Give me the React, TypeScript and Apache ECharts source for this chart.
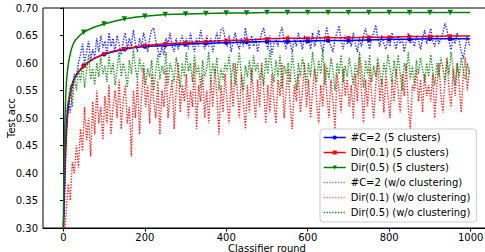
import React, { useEffect, useRef } from "react";
import * as echarts from "echarts";

const xTicks = [0, 200, 400, 600, 800, 1000];

const smoothRounds = [0, 1, 2, 3, 4, 5, 6, 8, 10, 12, 15, 20, 25, 30, 35, 40, 50, 60, 75, 100, 125, 150, 175, 200, 250, 300, 350, 400, 450, 500, 550, 600, 650, 700, 750, 800, 850, 900, 950, 999];
const blueClustered = [0.30, 0.33, 0.36, 0.39, 0.42, 0.44, 0.46, 0.49, 0.51, 0.525, 0.54, 0.558, 0.569, 0.576, 0.582, 0.587, 0.595, 0.601, 0.608, 0.616, 0.621, 0.625, 0.628, 0.630, 0.632, 0.634, 0.636, 0.637, 0.638, 0.639, 0.639, 0.640, 0.641, 0.641, 0.642, 0.643, 0.643, 0.644, 0.644, 0.644];
const redClustered = [0.29, 0.32, 0.35, 0.38, 0.41, 0.43, 0.45, 0.48, 0.50, 0.515, 0.535, 0.555, 0.567, 0.575, 0.581, 0.586, 0.594, 0.600, 0.608, 0.617, 0.622, 0.626, 0.629, 0.632, 0.635, 0.637, 0.639, 0.641, 0.642, 0.644, 0.645, 0.645, 0.646, 0.646, 0.647, 0.647, 0.648, 0.648, 0.649, 0.649];
const greenClustered = [0.30, 0.37, 0.43, 0.47, 0.50, 0.525, 0.545, 0.57, 0.585, 0.597, 0.61, 0.626, 0.636, 0.642, 0.646, 0.650, 0.656, 0.660, 0.665, 0.671, 0.676, 0.680, 0.683, 0.685, 0.688, 0.689, 0.690, 0.691, 0.691, 0.692, 0.692, 0.692, 0.692, 0.692, 0.692, 0.692, 0.692, 0.692, 0.692, 0.692];

const noisyStart = 2;
const noisyStep = 5;
const blueNoClust = [
  0.32, 0.46, 0.53, 0.51, 0.55, 0.58, 0.575, 0.60, 0.615, 0.635, 0.60, 0.62, 0.64, 0.605, 0.625, 0.61, 0.645, 0.62, 0.65, 0.628,
  0.64, 0.615, 0.655, 0.63, 0.645, 0.62, 0.65, 0.635, 0.615, 0.64, 0.655, 0.625, 0.645, 0.63, 0.66, 0.635, 0.62, 0.645, 0.63, 0.655,
  0.64, 0.62, 0.645, 0.66, 0.664, 0.64, 0.625, 0.611, 0.63, 0.615, 0.645, 0.635, 0.655, 0.63, 0.62, 0.645, 0.625, 0.64, 0.65, 0.63,
  0.645, 0.625, 0.655, 0.635, 0.62, 0.645, 0.63, 0.66, 0.64, 0.625, 0.65, 0.63, 0.645, 0.62, 0.64, 0.655, 0.635, 0.66, 0.664, 0.645,
  0.63, 0.65, 0.62, 0.64, 0.655, 0.635, 0.625, 0.645, 0.63, 0.664, 0.64, 0.625, 0.65, 0.63, 0.645, 0.62, 0.64, 0.655, 0.664, 0.64,
  0.625, 0.65, 0.615, 0.635, 0.645, 0.63, 0.655, 0.665, 0.64, 0.625, 0.65, 0.635, 0.62, 0.645, 0.63, 0.655, 0.64, 0.625, 0.65, 0.635,
  0.645, 0.625, 0.655, 0.63, 0.645, 0.66, 0.635, 0.62, 0.645, 0.666, 0.64, 0.63, 0.62, 0.645, 0.655, 0.668, 0.64, 0.625, 0.65, 0.635,
  0.645, 0.63, 0.655, 0.635, 0.62, 0.645, 0.63, 0.65, 0.663, 0.64, 0.625, 0.645, 0.655, 0.669, 0.645, 0.63, 0.65, 0.635, 0.625, 0.645,
  0.63, 0.655, 0.64, 0.625, 0.65, 0.635, 0.645, 0.62, 0.64, 0.655, 0.635, 0.645, 0.63, 0.65, 0.64, 0.625, 0.645, 0.66, 0.635, 0.65,
  0.663, 0.64, 0.63, 0.65, 0.635, 0.645, 0.655, 0.672, 0.66, 0.64, 0.624, 0.645, 0.635, 0.655, 0.64, 0.62, 0.608, 0.63, 0.65, 0.632,
];
const redNoClust = [
  0.28, 0.33, 0.38, 0.35, 0.42, 0.40, 0.45, 0.41, 0.48, 0.44, 0.52, 0.46, 0.50, 0.43, 0.53, 0.47, 0.55, 0.49, 0.52, 0.46,
  0.54, 0.49, 0.56, 0.47, 0.52, 0.55, 0.50, 0.57, 0.48, 0.53, 0.56, 0.49, 0.52, 0.43, 0.55, 0.50, 0.57, 0.47, 0.54, 0.59,
  0.52, 0.56, 0.49, 0.58, 0.53, 0.50, 0.57, 0.47, 0.55, 0.52, 0.59, 0.50, 0.54, 0.57, 0.48, 0.55, 0.60, 0.51, 0.56, 0.53,
  0.58, 0.50, 0.55, 0.52, 0.60, 0.48, 0.56, 0.53, 0.58, 0.50, 0.55, 0.49, 0.57, 0.52, 0.59, 0.54, 0.47, 0.56, 0.51, 0.58,
  0.53, 0.49, 0.57, 0.52, 0.60, 0.55, 0.50, 0.58, 0.53, 0.48, 0.56, 0.51, 0.59, 0.54, 0.50, 0.57, 0.52, 0.60, 0.55, 0.49,
  0.56, 0.51, 0.58, 0.53, 0.49, 0.57, 0.54, 0.60, 0.50, 0.55, 0.59, 0.52, 0.48, 0.56, 0.53, 0.58, 0.51, 0.55, 0.60, 0.52,
  0.57, 0.50, 0.55, 0.59, 0.53, 0.49, 0.56, 0.52, 0.60, 0.54, 0.50, 0.57, 0.53, 0.48, 0.58, 0.55, 0.51, 0.59, 0.54, 0.57,
  0.52, 0.56, 0.50, 0.58, 0.53, 0.61, 0.55, 0.49, 0.57, 0.52, 0.59, 0.54, 0.50, 0.56, 0.60, 0.53, 0.57, 0.51, 0.58, 0.54,
  0.50, 0.57, 0.53, 0.59, 0.55, 0.51, 0.58, 0.54, 0.60, 0.52, 0.48, 0.56, 0.55, 0.59, 0.53, 0.57, 0.51, 0.58, 0.54, 0.56,
  0.53, 0.58, 0.50, 0.56, 0.60, 0.54, 0.51, 0.57, 0.61, 0.55, 0.52, 0.59, 0.54, 0.60, 0.56, 0.51, 0.58, 0.61, 0.55, 0.59,
];
const greenNoClust = [
  0.44, 0.51, 0.53, 0.56, 0.52, 0.575, 0.55, 0.59, 0.565, 0.60, 0.555, 0.585, 0.615, 0.57, 0.59, 0.56, 0.60, 0.575, 0.61, 0.58,
  0.595, 0.565, 0.615, 0.58, 0.60, 0.56, 0.59, 0.62, 0.575, 0.60, 0.585, 0.555, 0.605, 0.58, 0.625, 0.59, 0.57, 0.61, 0.585, 0.60,
  0.56, 0.59, 0.575, 0.605, 0.55, 0.585, 0.615, 0.57, 0.595, 0.58, 0.62, 0.56, 0.60, 0.585, 0.565, 0.61, 0.59, 0.555, 0.60, 0.575,
  0.62, 0.585, 0.60, 0.565, 0.615, 0.58, 0.595, 0.555, 0.605, 0.575, 0.59, 0.62, 0.565, 0.60, 0.58, 0.61, 0.55, 0.59, 0.57, 0.60,
  0.585, 0.615, 0.57, 0.60, 0.56, 0.59, 0.62, 0.58, 0.55, 0.595, 0.575, 0.605, 0.565, 0.615, 0.585, 0.60, 0.57, 0.59, 0.56, 0.61,
  0.58, 0.625, 0.59, 0.565, 0.605, 0.575, 0.615, 0.555, 0.595, 0.58, 0.60, 0.565, 0.62, 0.585, 0.55, 0.60, 0.575, 0.61, 0.59, 0.56,
  0.60, 0.575, 0.62, 0.59, 0.565, 0.605, 0.58, 0.625, 0.56, 0.595, 0.57, 0.61, 0.585, 0.55, 0.60, 0.58, 0.615, 0.565, 0.595, 0.575,
  0.61, 0.585, 0.56, 0.60, 0.575, 0.62, 0.59, 0.555, 0.605, 0.58, 0.615, 0.565, 0.595, 0.575, 0.61, 0.585, 0.56, 0.60, 0.58, 0.615,
  0.59, 0.565, 0.605, 0.575, 0.615, 0.58, 0.55, 0.60, 0.585, 0.62, 0.57, 0.595, 0.56, 0.605, 0.58, 0.61, 0.59, 0.565, 0.60, 0.575,
  0.615, 0.585, 0.56, 0.60, 0.575, 0.61, 0.59, 0.565, 0.605, 0.58, 0.62, 0.59, 0.56, 0.60, 0.575, 0.61, 0.585, 0.57, 0.60, 0.58,
];

const FONT = "DejaVu Sans";
const FS = 10;

function smoothData(vals: number[]) {
  return smoothRounds.map((r, i) => {
    const item: any = { value: [r, vals[i]] };
    if (!(r > 0 && r % 50 === 0)) item.symbol = "none";
    return item;
  });
}
function noisyData(vals: number[]) {
  return vals.map((v, i) => [noisyStart + i * noisyStep, v]);
}

export default function App() {
  const ref = useRef<HTMLDivElement>(null);
  useEffect(() => {
    if (!ref.current) return;
    const chart = echarts.init(ref.current, undefined, { renderer: "svg" });
    const solid = (name: string, color: string, vals: number[], symbol: string, size: number, rotate = 0) => ({
      name,
      type: "line",
      data: smoothData(vals),
      symbol,
      symbolSize: size,
      symbolRotate: rotate,
      showSymbol: true,
      lineStyle: { color, width: 1.5 },
      itemStyle: { color },
      emphasis: { disabled: true },
    });
    const dotted = (name: string, color: string, vals: number[]) => ({
      name,
      type: "line",
      data: noisyData(vals),
      symbol: "none",
      lineStyle: { color, width: 1.4, type: [1.4, 1.4], opacity: 0.85 },
      itemStyle: { color },
      emphasis: { disabled: true },
    });
    const names = [
      "#C=2 (5 clusters)",
      "Dir(0.1) (5 clusters)",
      "Dir(0.5) (5 clusters)",
      "#C=2 (w/o clustering)",
      "Dir(0.1) (w/o clustering)",
      "Dir(0.5) (w/o clustering)",
    ];
    chart.setOption({
      animation: false,
      grid: {
        left: 43, right: 0, top: 8, bottom: 24,
        containLabel: false,
        outerBoundsMode: "none",
        show: true, borderColor: "#000", borderWidth: 1, backgroundColor: "transparent",
      },
      xAxis: {
        type: "value",
        min: -50,
        max: 1050,
        interval: 50,
        name: "Classifier round",
        nameLocation: "middle",
        nameGap: 15,
        nameMoveOverlap: false,
        nameTextStyle: { fontFamily: FONT, fontSize: FS, color: "#000" },
        axisLine: { show: true, lineStyle: { color: "#000", width: 1 } },
        axisTick: { show: true, length: 3.5, lineStyle: { color: "#000" }, customValues: xTicks },
        axisLabel: {
          fontFamily: FONT, fontSize: FS, color: "#000", margin: 4,
          customValues: xTicks,
          formatter: (v: number) => String(v),
        },
        splitLine: { show: false },
      },
      yAxis: {
        type: "value",
        min: 0.3,
        max: 0.7,
        interval: 0.05,
        name: "Test acc",
        nameLocation: "middle",
        nameGap: 27,
        nameMoveOverlap: false,
        nameTextStyle: { fontFamily: FONT, fontSize: FS, color: "#000" },
        axisLine: { show: true, lineStyle: { color: "#000", width: 1 } },
        axisTick: { show: true, length: 3.5, lineStyle: { color: "#000" } },
        axisLabel: {
          fontFamily: FONT, fontSize: FS, color: "#000", margin: 5,
          formatter: (v: number) => v.toFixed(2),
        },
        splitLine: { show: false },
      },
      legend: {
        orient: "vertical",
        left: 320,
        top: 129,
        itemWidth: 22,
        itemHeight: 5,
        itemGap: 2,
        padding: [2, 6, 3, 3],
        backgroundColor: "rgba(255,255,255,0.85)",
        borderColor: "#cccccc",
        borderWidth: 1,
        borderRadius: 3,
        textStyle: { fontFamily: FONT, fontSize: FS, color: "#000", lineHeight: 13 },
        data: [
          { name: names[0], lineStyle: { width: 1.5 } },
          { name: names[1], lineStyle: { width: 1.5 } },
          { name: names[2], lineStyle: { width: 1.5 } },
          { name: names[3], itemStyle: { opacity: 0 }, lineStyle: { opacity: 0.5, width: 1.4 } },
          { name: names[4], itemStyle: { opacity: 0 }, lineStyle: { opacity: 0.5, width: 1.4 } },
          { name: names[5], itemStyle: { opacity: 0 }, lineStyle: { opacity: 0.9, width: 1.4 } },
        ],
      },
      series: [
        solid(names[0], "#0000ff", blueClustered, "circle", 4.5),
        solid(names[1], "#ff0000", redClustered, "rect", 3.5),
        solid(names[2], "#008000", greenClustered, "triangle", 5.5, 180),
        dotted(names[3], "#0000ff", blueNoClust),
        dotted(names[4], "#ff0000", redNoClust),
        dotted(names[5], "#008000", greenNoClust),
      ],
    });
    return () => chart.dispose();
  }, []);
  return (
    <div
      ref={ref}
      style={{ position: "absolute", left: 0, top: 0, width: 491, height: 252, background: "#fff" }}
    />
  );
}
